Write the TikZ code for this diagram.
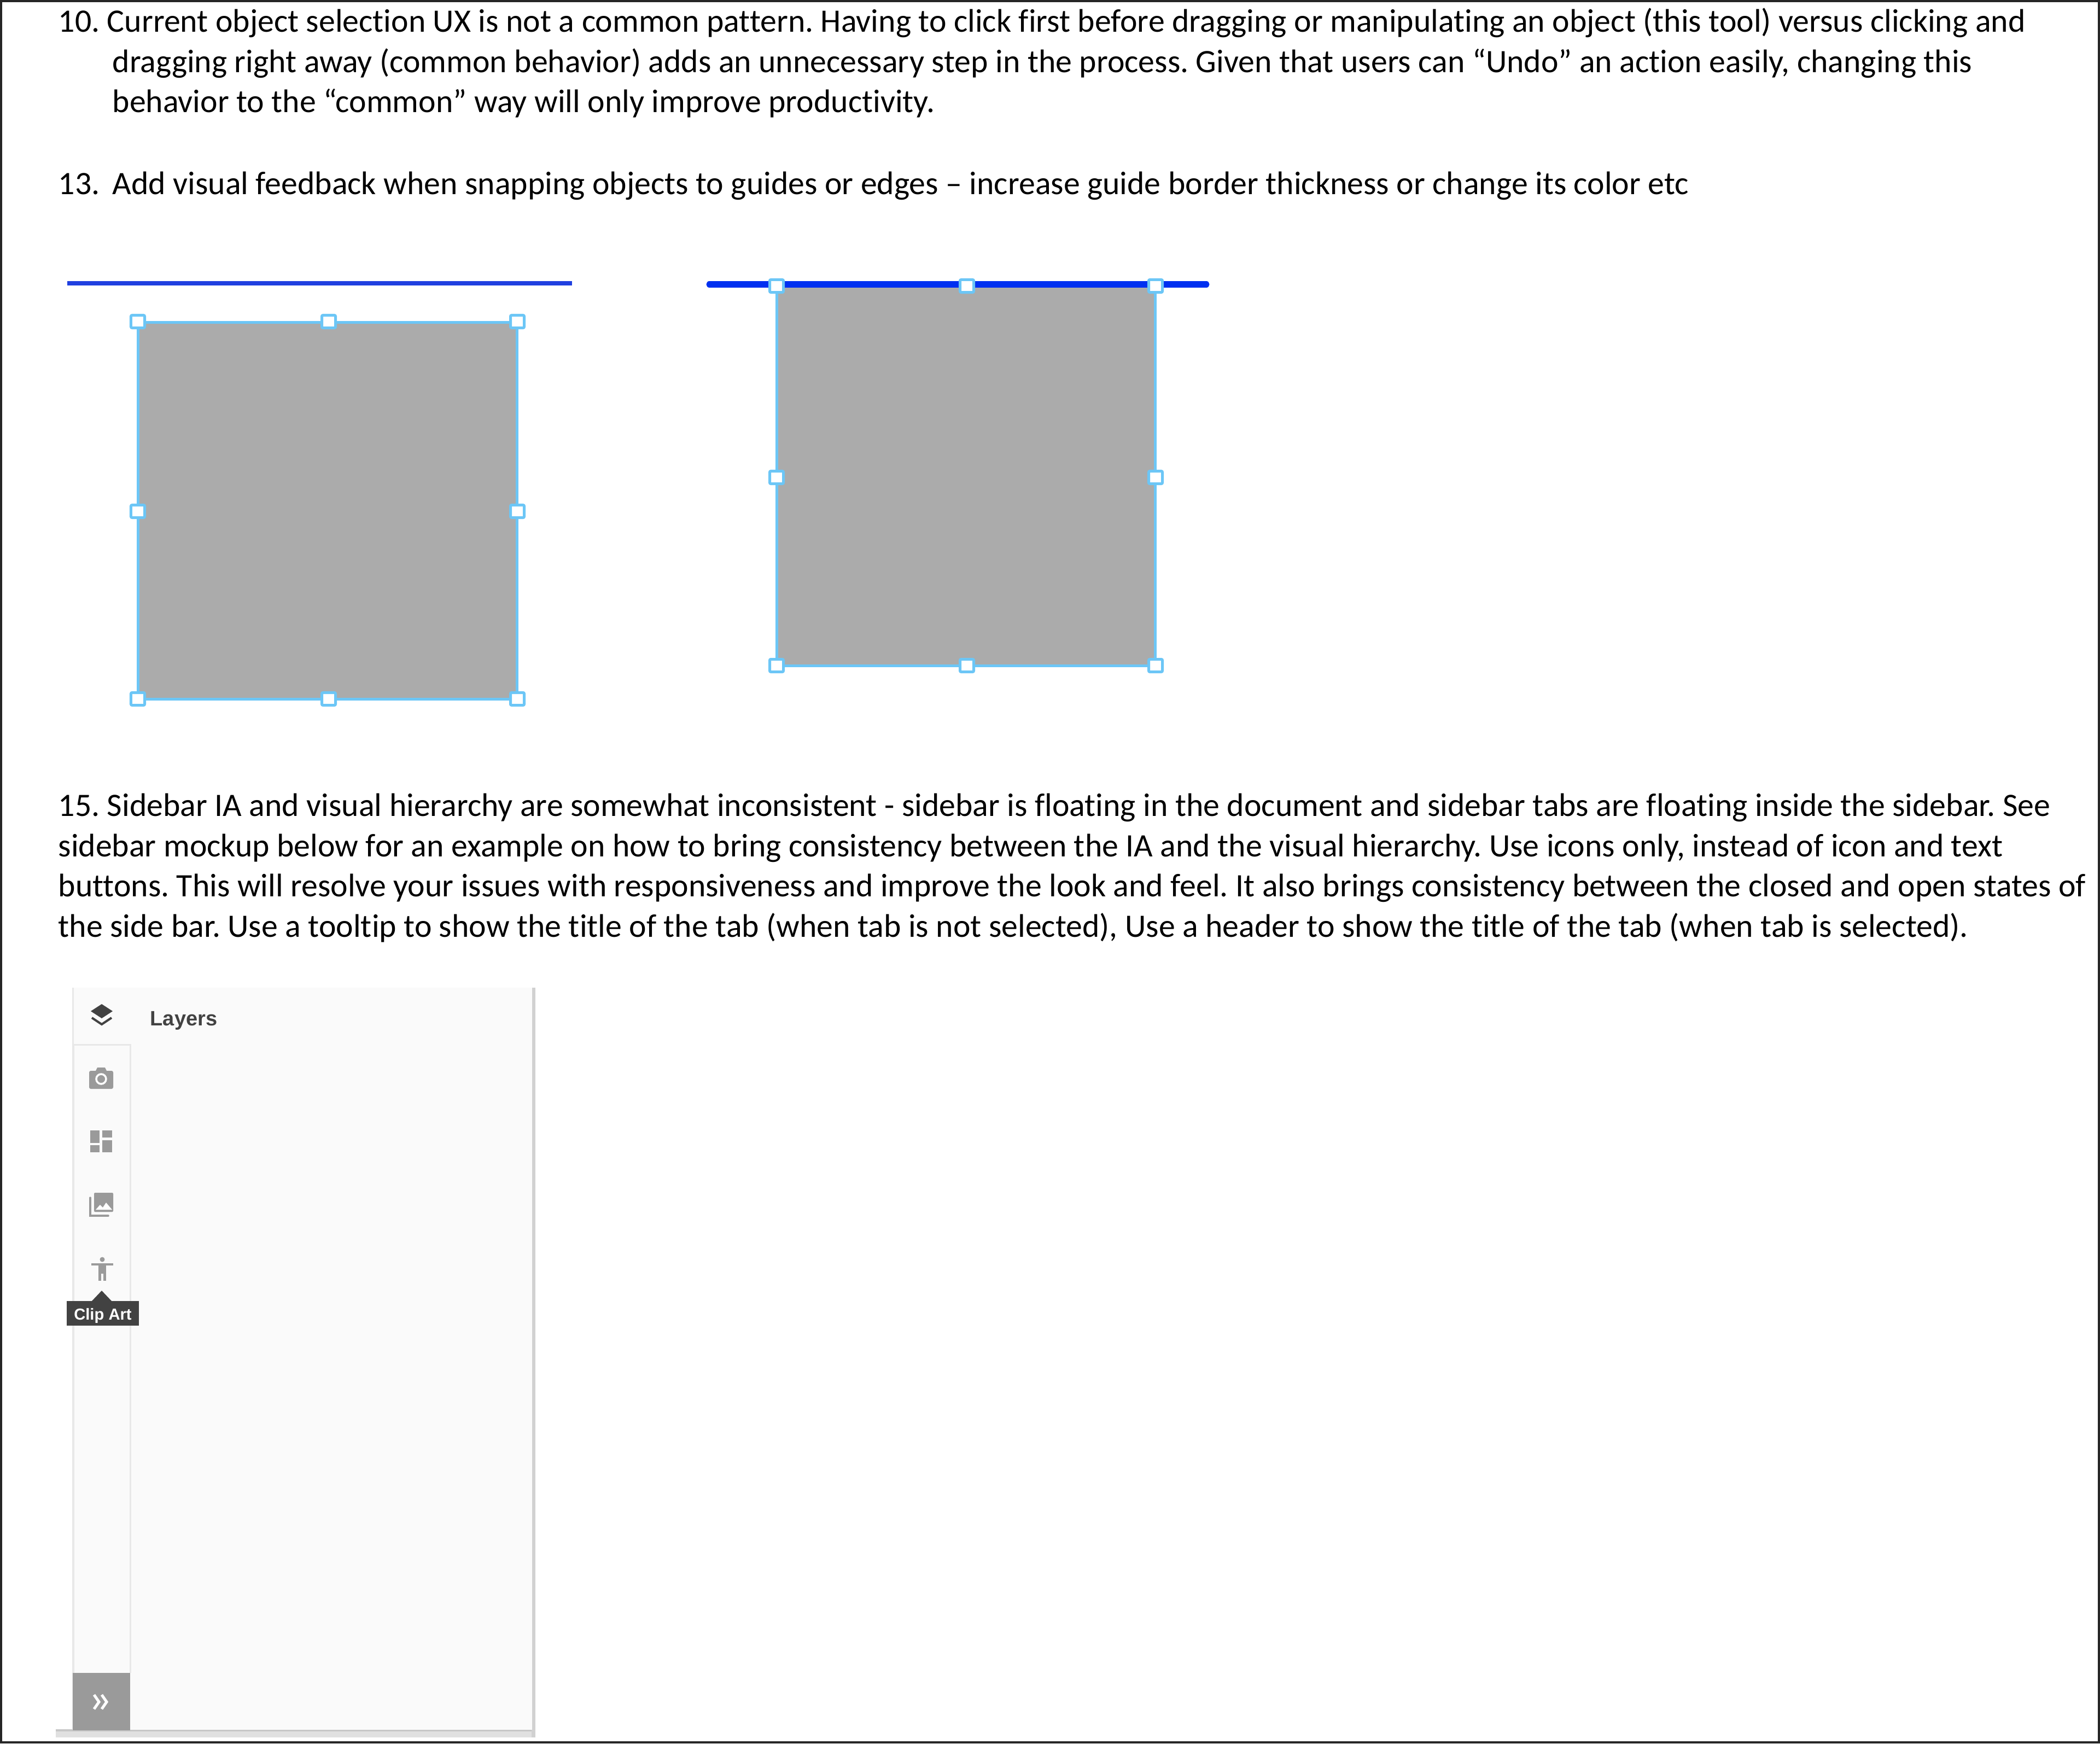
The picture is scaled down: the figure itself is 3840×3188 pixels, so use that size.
\documentclass[tikz,border=0pt]{standalone}
\usepackage{fontspec}
\setmainfont{Carlito}[RawFeature={-liga}]
\newfontfamily\uifont{Liberation Sans}
\frenchspacing
\definecolor{sel}{HTML}{6CC6F6}
\definecolor{panelbg}{HTML}{FAFAFA}
\definecolor{icongray}{HTML}{9A9A9A}
\definecolor{icondark}{HTML}{424242}
\tikzset{
  x=0.01cm,y=-0.01cm,
  para/.style={anchor=base west,inner sep=0,font=\fontsize{17pt}{20pt}\selectfont\frenchspacing,text=black},
  handle/.style={draw=sel,fill=white,line width=0.05cm,minimum width=0.25cm,minimum height=0.23cm,inner sep=0,rounded corners=0.02cm},
  selbox/.style={draw=sel,fill=black!33,line width=0.05cm},
  iconfill/.style={fill=icongray,draw=none},
  darkfill/.style={fill=icondark,draw=none},
}
\begin{document}
\begin{tikzpicture}
\useasboundingbox (0,0) rectangle (3840,3188);
\draw[black!85,line width=0.04cm] (2,2) rectangle (3838,3186);
% text
\node[para] (t1) at (106,59) {10. Current object selection UX is not a common pattern. Having to click first before dragging or manipulating an object (this tool) versus clicking and};
\node[para] (t2) at (205,133) {dragging right away (common behavior) adds an unnecessary step in the process. Given that users can “Undo” an action easily, changing this};
\node[para] (t3) at (205,206) {behavior to the “common” way will only improve productivity.};
\node[para] (t4) at (106,356) {13.};
\node[para] (t5) at (205,356) {Add visual feedback when snapping objects to guides or edges – increase guide border thickness or change its color etc};
\node[para] (t6) at (106,1492) {15. Sidebar IA and visual hierarchy are somewhat inconsistent - sidebar is floating in the document and sidebar tabs are floating inside the sidebar. See};
\node[para] (t7) at (106,1566) {sidebar mockup below for an example on how to bring consistency between the IA and the visual hierarchy. Use icons only, instead of icon and text};
\node[para] (t8) at (106,1639) {buttons. This will resolve your issues with responsiveness and improve the look and feel. It also brings consistency between the closed and open states of};
\node[para] (t9) at (106,1713) {the side bar. Use a tooltip to show the title of the tab (when tab is not selected), Use a header to show the title of the tab (when tab is selected).};
% left example
\draw[color={rgb,255:red,32;green,64;blue,224},line width=0.07cm] (123,518) -- (1046,518);
\draw[selbox] (252,589) rectangle (945,1278);
\foreach \n/\x/\y in {a/252/588,b/601/588,c/946/588,d/252/935,e/946/935,f/252/1278,g/601/1278,h/946/1278}{\node[handle] (L\n) at (\x,\y) {};}
% right example
\draw[selbox] (1420,523) rectangle (2112,1217);
\draw[color={rgb,255:red,0;green,48;blue,240},line width=0.11cm,line cap=round] (1297,520) -- (2206,520);
\foreach \n/\x/\y in {a/1420/523,b/1768/523,c/2113/523,d/1420/873,e/2113/873,f/1420/1217,g/1768/1217,h/2113/1217}{\node[handle] (R\n) at (\x,\y) {};}
% sidebar
\fill[black!12] (102,3164) rectangle (979,3177);
\fill[black!22] (102,3162) rectangle (979,3166);
\fill[black!18] (972,1806) rectangle (979,3177);
\fill[panelbg] (133,1806) rectangle (973,3163);
\draw[black!9,line width=0.03cm] (133,1806) -- (133,3163);
\draw[black!9,line width=0.03cm,fill=panelbg] (134,3059) -- (134,1910) -- (238,1910) -- (238,3059);
\fill[icongray] (133,3059) rectangle (238,3164);
\draw[white,line width=0.05cm] (172,3099) -- (181,3112) -- (172,3125);
\draw[white,line width=0.05cm] (186,3099) -- (195,3112) -- (186,3125);
% layers icon
\fill[darkfill] (186,1836) -- (206,1849) -- (186,1862) -- (166,1849) -- cycle;
\draw[icondark,line width=0.04cm] (168,1861) -- (186,1873) -- (204,1861);
\node[anchor=base west,inner sep=0,font=\uifont\fontsize{10.8pt}{13pt}\selectfont\bfseries,text=icondark] (layers) at (274,1875) {Layers};
% camera
\fill[iconfill,rounded corners=0.03cm] (163,1958) rectangle (207,1991);
\fill[iconfill] (174,1960) -- (178,1952) -- (192,1952) -- (196,1960) -- cycle;
\draw[white,line width=0.035cm] (185,1973) circle (9);
% dashboard
\fill[iconfill] (165,2067) rectangle (182,2090);
\fill[iconfill] (165,2094) rectangle (182,2107);
\fill[iconfill] (187,2067) rectangle (205,2080);
\fill[iconfill] (187,2085) rectangle (205,2107);
% images
\draw[icongray,line width=0.035cm,line cap=round] (165,2190) -- (165,2223) -- (198,2223);
\fill[iconfill,rounded corners=0.02cm] (172,2181) rectangle (207,2216);
\fill[white] (175,2212) -- (183,2203) -- (188,2208) -- (194,2199) -- (205,2212) -- cycle;
% person
\fill[iconfill] (187,2303) circle (4.5);
\fill[iconfill] (167,2310) rectangle (207,2314);
\fill[iconfill] (180,2314) rectangle (194,2342);
\fill[panelbg] (185,2329) rectangle (189,2342);
% tooltip
\fill[darkfill] (167,2380) -- (186,2360) -- (205,2380) -- cycle;
\fill[darkfill] (122,2379) rectangle (254,2424);
\node[anchor=base,inner sep=0,font=\uifont\fontsize{8.3pt}{10pt}\selectfont\bfseries,text=white] (tip) at (188,2413) {Clip Art};
\end{tikzpicture}
\end{document}
